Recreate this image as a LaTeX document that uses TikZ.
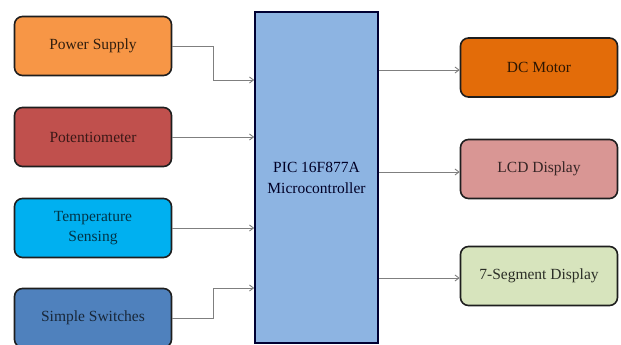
\documentclass[tikz,border=0pt]{standalone}
\usepackage{fontspec}
\setmainfont{Liberation Serif}
\usetikzlibrary{arrows.meta,calc}
\definecolor{cPower}{HTML}{F79646}
\definecolor{cPot}{HTML}{C0504D}
\definecolor{cTemp}{HTML}{00B0F0}
\definecolor{cSw}{HTML}{4F81BD}
\definecolor{cMicro}{HTML}{8DB4E2}
\definecolor{cMotor}{HTML}{E36C09}
\definecolor{cLcd}{HTML}{D99694}
\definecolor{cSeg}{HTML}{D7E4BD}
\definecolor{cEdge}{HTML}{1E1E1E}
\definecolor{cArrow}{HTML}{7F7F7F}
\begin{document}
\begin{tikzpicture}[x=1pt,y=-1pt,
  blk/.style={draw=cEdge,line width=1.6pt,rounded corners=8pt,minimum width=157pt,minimum height=59pt,inner sep=0pt,align=center,font=\fontsize{15.5}{20}\selectfont},
  mcu/.style={draw=black!80!blue,line width=1.6pt,fill=cMicro,minimum width=123pt,minimum height=331pt,inner sep=0pt,align=center,font=\fontsize{15.5}{21}\selectfont,text=black!85!blue},
  arr/.style={draw=cArrow,line width=0.9pt,-{Straight Barb[length=4pt,width=6pt]}}]
\useasboundingbox (0,0) rectangle (621,345);
\node[mcu] (micro) at (316.5,177.5) {PIC 16F877A\\Microcontroller};
\node[blk,fill=cPower,text=cPower!20!black] (ps) at (93,46) {Power Supply};
\node[blk,fill=cPot,text=cPot!30!black] (pot) at (93,137) {Potentiometer};
\node[blk,fill=cTemp,text=cTemp!30!black] (temp) at (93,228) {Temperature\\Sensing};
\node[blk,fill=cSw,text=cSw!30!black] (sw) at (93,318) {Simple Switches};
\node[blk,fill=cMotor,text=cMotor!20!black] (motor) at (539,67.5) {DC Motor};
\node[blk,fill=cLcd,text=cLcd!25!black] (lcd) at (539,169) {LCD Display};
\node[blk,fill=cSeg,text=cSeg!20!black] (seg) at (539,276) {7-Segment Display};
\coordinate (in1) at (0,80);
\coordinate (in4) at (0,288);
\coordinate (jx) at (213,0);
\draw[arr] (ps.east) -| (jx |- in1) -- (micro.west |- in1);
\draw[arr] (pot.east) -- (micro.west |- pot.east);
\draw[arr] (temp.east) -- (micro.west |- temp.east);
\draw[arr] (sw.east) -| (jx |- in4) -- (micro.west |- in4);
\draw[arr] (micro.east |- motor.west) ++(0,2.5) -- ($(motor.west)+(0,2.5)$);
\draw[arr] (micro.east |- lcd.west) ++(0,3) -- ($(lcd.west)+(0,3)$);
\draw[arr] (micro.east |- seg.west) ++(0,2) -- ($(seg.west)+(0,2)$);
\end{tikzpicture}
\end{document}
